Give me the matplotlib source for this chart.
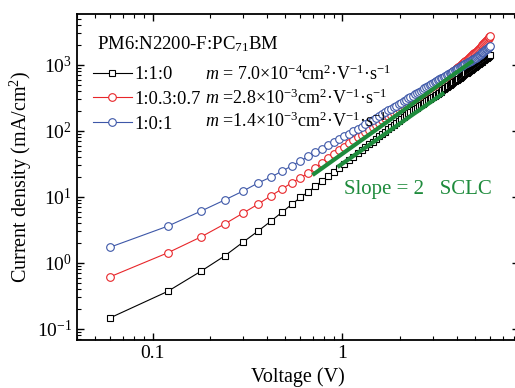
import matplotlib
matplotlib.use("Agg")
import matplotlib.pyplot as plt

plt.rcParams['font.family'] = ['Liberation Serif', 'DejaVu Serif']
plt.rcParams['mathtext.fontset'] = 'custom'
plt.rcParams['mathtext.rm'] = 'Liberation Serif'
plt.rcParams['mathtext.it'] = 'Liberation Serif:italic'
plt.rcParams['mathtext.bf'] = 'Liberation Serif:bold'

# voltage sweep, 0.06 V steps
V = [round(0.06 * k, 2) for k in range(1, 101)]

J_110 = [0.148, 0.37, 0.75, 1.28, 2.07, 3.05, 4.3, 5.85, 7.7, 9.8,
         11.9, 14.5, 17.5, 20.5, 23.9, 27.5, 31.4, 35.8, 40.4, 45.5,
         50.8, 56.5, 62.5, 68.9, 75.6, 82.7, 90.1, 97.9, 106, 115,
         123, 133, 142, 152, 163, 174, 185, 195, 205, 215,
         225, 236, 246, 257, 269, 280, 292, 304, 316, 328,
         341, 354, 367, 380, 395, 410, 426, 442, 458, 475,
         492, 509, 527, 545, 563, 582, 600, 619, 639, 659,
         679, 699, 720, 741, 762, 784, 806, 829, 851, 874,
         898, 921, 945, 969, 994, 1019, 1044, 1070, 1096, 1122,
         1149, 1176, 1203, 1231, 1259, 1287, 1315, 1344, 1373, 1400]

J_1037 = [0.62, 1.42, 2.48, 3.9, 5.7, 7.8, 10.4, 13.2, 16.3, 19.5,
          23.0, 27.6, 32.7, 38.2, 44.1, 50.5, 57.4, 64.7, 72.1, 79.8,
          87.8, 96.2, 105, 114, 124, 134, 144, 155, 166, 177,
          189, 201, 214, 227, 240, 254, 268, 282, 297, 311,
          327, 342, 358, 374, 391, 408, 425, 443, 461, 480,
          501, 523, 545, 567, 590, 614, 637, 662, 687, 712,
          738, 764, 791, 819, 848, 878, 908, 939, 970, 1002,
          1035, 1068, 1101, 1136, 1170, 1213, 1256, 1301, 1346, 1393,
          1440, 1489, 1538, 1589, 1640, 1700, 1761, 1824, 1889, 1955,
          2022, 2091, 2162, 2234, 2307, 2383, 2460, 2539, 2619, 2700]

J_101 = [1.74, 3.6, 6.1, 9.0, 12.3, 16.3, 20.0, 24.5, 29.5, 35.0,
         41.0, 47.1, 53.6, 60.3, 67.4, 74.7, 82.3, 90.2, 98.3, 107,
         116, 126, 136, 147, 158, 169, 180, 192, 204, 217,
         229, 242, 256, 269, 283, 298, 312, 327, 342, 357,
         373, 389, 405, 422, 439, 456, 473, 491, 509, 527,
         545, 564, 583, 603, 622, 642, 662, 682, 703, 724,
         745, 766, 788, 810, 832, 854, 877, 900, 923, 947,
         970, 993, 1017, 1041, 1065, 1089, 1114, 1138, 1163, 1188,
         1214, 1239, 1265, 1291, 1317, 1354, 1393, 1431, 1471, 1511,
         1551, 1592, 1634, 1677, 1720, 1764, 1808, 1853, 1899, 1945]

# slope-2 guide lines
fit1_V = [0.71, 4.77]
fit1_J = [22.4, 1110]
fit2_V = [0.96, 3.36]
fit2_J = [29.5, 364]

labels = ["1:1:0", "1:0.3:0.7", "1:0:1"]
mobility = [r"$m$ = 7.0×10$^{-4}$cm$^{2}$·V$^{-1}$·s$^{-1}$",
            r"$m$ =2.8×10$^{-3}$cm$^{2}$·V$^{-1}$·s$^{-1}$",
            r"$m$ =1.4×10$^{-3}$cm$^{2}$·V$^{-1}$·s$^{-1}$"]

red = '#E8262A'
blue = '#3D57A8'
green = '#1E8B3C'

fig = plt.figure(figsize=(5.15, 3.88), dpi=100)
ax = fig.add_axes([77 / 515, 48 / 388, 442 / 515, 326 / 388])

ax.plot(V, J_110, '-s', color='black', mfc='white', ms=5, mew=0.8, lw=0.8, label=labels[0])
ax.plot(V, J_1037, '-o', color=red, mfc='white', ms=5.5, mew=0.8, lw=0.8, label=labels[1])
ax.plot(V, J_101, '-o', color=blue, mfc='white', ms=5.5, mew=0.8, lw=0.8, label=labels[2])
ax.plot(fit1_V, fit1_J, color=green, lw=3)
ax.plot(fit2_V, fit2_J, color=green, lw=3)

ax.set_xscale('log')
ax.set_yscale('log')
ax.set_xlim(0.04, 8.5)
ax.set_ylim(0.068, 5900)
ax.set_xticks([0.1, 1])
ax.set_xticklabels(["0.1", "1"])

ax.tick_params(which='both', direction='in', top=True, right=True, labelsize=14)
ax.tick_params(which='major', length=5, width=1)
ax.tick_params(which='minor', length=3, width=0.8)
for s in ax.spines.values():
    s.set_linewidth(1.3)

ax.set_xlabel("Voltage (V)", fontsize=14.5, labelpad=4)
ax.set_ylabel("Current density (mA/cm$^{2}$)", fontsize=14.5, labelpad=2)

leg = ax.legend(loc='upper left', bbox_to_anchor=(0.036, 0.84), frameon=False,
                fontsize=13.3, handlelength=2.1, handletextpad=0.12,
                labelspacing=0.42, borderpad=0, borderaxespad=0)

ax.text(0.045, 0.908, "PM6:N2200-F:PC$_{71}$BM", transform=ax.transAxes,
        fontsize=13.5, va='center', ha='left')
for i, t in enumerate(mobility):
    ax.text(0.29, [0.816, 0.742, 0.672][i], t, transform=ax.transAxes,
            fontsize=13, va='center', ha='left')

ax.text(1.02, 12.8, "Slope = 2   SCLC", color=green, fontsize=15, va='center', ha='left')

fig.savefig("out.png", dpi=100)
